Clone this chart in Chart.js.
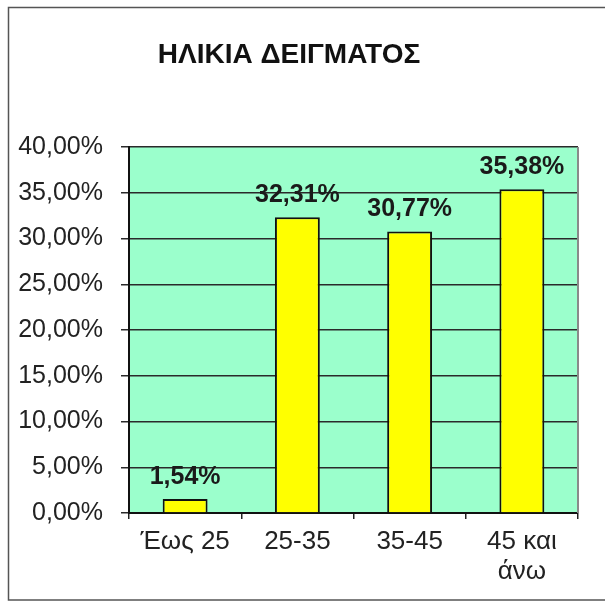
<!DOCTYPE html>
<html>
<head>
<meta charset="utf-8">
<script src="https://cdn.jsdelivr.net/npm/chart.js@4"></script>
<style>
  html, body { margin: 0; padding: 0; background: #fff; }
  #wrap { width: 605px; height: 602px; }
</style>
</head>
<body>
<div id="wrap"><canvas id="ageChart" width="605" height="602"></canvas></div>
<script>
// chart data
const categories = ['Έως 25', '25-35', '35-45', ['45 και', 'άνω']];
const percentValues = [1.54, 32.31, 30.77, 35.38];
const yTicks = [0, 5, 10, 15, 20, 25, 30, 35, 40];
const chartTitle = 'ΗΛΙΚΙΑ ΔΕΙΓΜΑΤΟΣ';

const fontFamily = '"Liberation Sans", Arial, sans-serif';

function formatPercent(v) {
    return v.toFixed(2).replace('.', ',') + '%';
}

// outer frame + green plot background
const backgroundPlugin = {
    id: 'backgroundPlugin',
    beforeDraw: function (chart) {
        const ctx = chart.ctx;
        const area = chart.chartArea;
        ctx.save();
        ctx.fillStyle = '#ffffff';
        ctx.fillRect(0, 0, chart.width, chart.height);
        ctx.strokeStyle = '#555555';
        ctx.lineWidth = 1.5;
        ctx.strokeRect(8.5, 7.5, 700, 592.5);
        ctx.fillStyle = '#9bffcc';
        ctx.fillRect(area.left, area.top, area.right - area.left, area.bottom - area.top);
        ctx.restore();
    },
    afterDraw: function (chart) {
        const ctx = chart.ctx;
        const area = chart.chartArea;
        ctx.save();
        ctx.strokeStyle = '#8a8a8a';
        ctx.lineWidth = 2;
        ctx.beginPath();
        ctx.moveTo(area.right, area.top);
        ctx.lineTo(area.right, area.bottom);
        ctx.stroke();
        ctx.restore();
    }
};

// value labels above bars
const valueLabels = {
    id: 'valueLabels',
    afterDatasetsDraw: function (chart) {
        const ctx = chart.ctx;
        const meta = chart.getDatasetMeta(0);
        ctx.save();
        ctx.font = 'bold 25px ' + fontFamily;
        ctx.fillStyle = '#1a1a1a';
        ctx.textAlign = 'center';
        ctx.textBaseline = 'alphabetic';
        meta.data.forEach(function (bar, i) {
            ctx.fillText(formatPercent(percentValues[i]), bar.x, bar.y - 15);
        });
        ctx.restore();
    }
};

new Chart(document.getElementById('ageChart'), {
    type: 'bar',
    data: {
        labels: categories,
        datasets: [{
            data: percentValues,
            backgroundColor: '#ffff00',
            borderColor: '#111111',
            borderWidth: 2,
            barPercentage: 0.4,
            categoryPercentage: 1.0
        }]
    },
    options: {
        responsive: false,
        animation: false,
        layout: { padding: { left: 0, right: 27, top: 0, bottom: 0 } },
        plugins: {
            legend: { display: false },
            tooltip: { enabled: false },
            title: {
                display: true,
                text: chartTitle,
                color: '#111111',
                font: { family: fontFamily, size: 28, weight: 'bold', lineHeight: 1.2 },
                padding: { top: 38, bottom: 75.4 }
            }
        },
        scales: {
            x: {
                offset: true,
                grid: {
                    offset: true,
                    drawOnChartArea: false,
                    drawTicks: true,
                    tickLength: 6,
                    color: '#222222',
                    lineWidth: 1.5
                },
                border: { display: true, color: '#111111', width: 2 },
                ticks: {
                    color: '#222222',
                    padding: 8,
                    maxRotation: 0,
                    autoSkip: false,
                    font: { family: fontFamily, size: 26, lineHeight: 1.15 }
                },
                afterFit: function (scale) { scale.height = 89; }
            },
            y: {
                min: 0,
                max: 40,
                afterBuildTicks: function (scale) {
                    scale.ticks = yTicks.map(function (v) { return { value: v }; });
                },
                grid: {
                    color: '#2a2a2a',
                    lineWidth: 1.5,
                    drawTicks: true,
                    tickLength: 8
                },
                border: { display: true, color: '#111111', width: 2 },
                ticks: {
                    color: '#222222',
                    padding: 18,
                    font: { family: fontFamily, size: 25 },
                    callback: function (v) { return formatPercent(v); }
                },
                afterFit: function (scale) { scale.width = 129; }
            }
        }
    },
    plugins: [backgroundPlugin, valueLabels]
});
</script>
</body>
</html>
